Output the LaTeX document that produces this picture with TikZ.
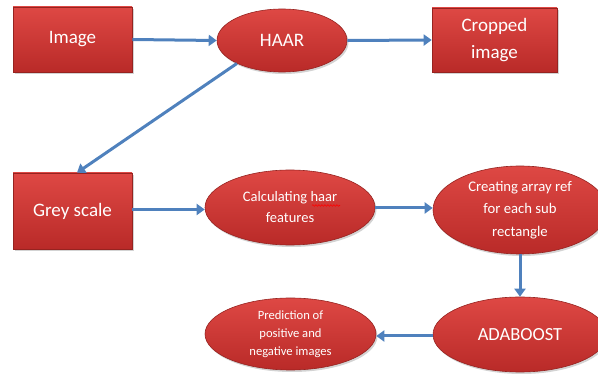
\documentclass[tikz,border=0pt]{standalone}
\usepackage{fontspec}
\setmainfont{Carlito}
\usetikzlibrary{shapes.geometric,arrows.meta,shadows,calc,decorations.pathmorphing}
\definecolor{redtop}{RGB}{222,72,68}
\definecolor{redbot}{RGB}{185,42,40}
\definecolor{redline}{RGB}{150,35,32}
\definecolor{arrowblue}{RGB}{79,129,189}
\tikzset{
  base/.style={draw=redline, line width=0.6pt, top color=redtop, bottom color=redbot, text=white, align=center, inner sep=1pt,
     drop shadow={shadow xshift=1.5pt, shadow yshift=-2pt, opacity=0.35}},
  boxnode/.style={base, rectangle},
  ellnode/.style={base, ellipse},
  conn/.style={draw=arrowblue, line width=3pt, -{Triangle[length=8pt,width=11pt]}},
  bigtext/.style={font=\fontsize{19}{26.5}\selectfont},
  squiggle/.style={draw=red, line width=0.6pt, decorate, decoration={snake, amplitude=0.8pt, segment length=3pt}},
}
\begin{document}
\begin{tikzpicture}[x=1pt,y=-1pt]
\useasboundingbox (0,0) rectangle (598,374);
\node[boxnode, minimum width=119pt, minimum height=65pt, bigtext] (img) at (72.5,39.5) {Image};
\node[ellnode, minimum width=130pt, minimum height=63pt, bigtext] (haar) at (282,40.5) {HAAR};
\node[boxnode, minimum width=125pt, minimum height=64pt, bigtext] (crop) at (494.5,40) {Cropped\\image};
\node[boxnode, minimum width=119pt, minimum height=76pt, bigtext] (grey) at (72.5,211) {Grey scale};
\node[ellnode, minimum width=170pt, minimum height=75pt, font=\fontsize{14.5}{21}\selectfont] (calc) at (290,207.5) {Calculating haar\\features};
\node[ellnode, minimum width=174pt, minimum height=88pt, font=\fontsize{14.7}{22.5}\selectfont] (arr) at (520,210) {Creating array ref\\for each sub\\rectangle};
\node[ellnode, minimum width=174pt, minimum height=75pt, font=\fontsize{18.5}{22}\selectfont] (ada) at (520,334.5) {ADABOOST};
\node[ellnode, minimum width=171pt, minimum height=72pt, font=\fontsize{12.6}{18}\selectfont] (pred) at (290.5,334) {Prediction of\\positive and\\negative images};
\draw[squiggle] ($(calc.center)+(22,-2)$) -- ($(calc.center)+(50,-2)$);
\coordinate (gtop) at ($(grey.north)+(4.5,0)$);
\draw[conn] (img.east) -- (haar.west);
\draw[conn] (haar.east) -- (crop.west);
\draw[conn] (haar.207) -- (gtop);
\draw[conn] (grey.east |- 0,209.5) -- (calc.west |- 0,209.5);
\draw[conn] (calc.east |- 0,208) -- (arr.west |- 0,208);
\draw[conn] (arr.south) -- (ada.north);
\draw[conn] (ada.west |- 0,336) -- (pred.east |- 0,336);
\end{tikzpicture}
\end{document}
